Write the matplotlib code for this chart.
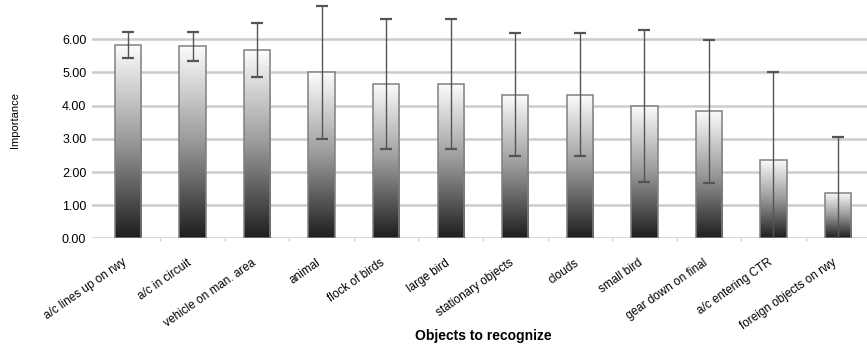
import numpy as np
import matplotlib
matplotlib.use("Agg")
import matplotlib.pyplot as plt
from matplotlib.colors import LinearSegmentedColormap
from matplotlib.patches import Rectangle
from matplotlib.transforms import ScaledTranslation

plt.rcParams['font.family'] = ['Liberation Sans', 'DejaVu Sans']

# datos
objetos = ['a/c lines up on rwy', 'a/c in circuit', 'vehicle on man. area', 'animal',
           'flock of birds', 'large bird', 'stationary objects', 'clouds', 'small bird',
           'gear down on final', 'a/c entering CTR', 'foreign objects on rwy']
media = [5.83, 5.79, 5.67, 5.00, 4.65, 4.65, 4.33, 4.33, 3.99, 3.83, 2.37, 1.37]
desv = [0.40, 0.44, 0.81, 2.00, 1.97, 1.97, 1.86, 1.86, 2.29, 2.15, 2.64, 1.68]

x = np.arange(len(objetos))
media = np.array(media)
desv = np.array(desv)

fig = plt.figure(figsize=(8.67, 3.46), dpi=100)
ax = fig.add_axes([0.106, 0.311, 0.894, 0.686])

ancho = 0.41
cmap = LinearSegmentedColormap.from_list('grad', [(0, '#1e1e1e'), (0.5, '#9a9a9a'), (1, '#fdfdfd')])
grad = np.linspace(0, 1, 256).reshape(-1, 1)

for xi, m in zip(x, media):
    im = ax.imshow(grad, cmap=cmap, origin='lower', aspect='auto',
                   extent=(xi - ancho / 2, xi + ancho / 2, 0, m), zorder=2)
    rect = Rectangle((xi - ancho / 2, 0), ancho, m, facecolor='none',
                     edgecolor='#808080', linewidth=1.1, zorder=3)
    ax.add_patch(rect)
    im.set_clip_path(rect)

# barras de error: las que llegan a cero no tienen tapa inferior
completa = desv < media
ax.errorbar(x[completa], media[completa], yerr=desv[completa], fmt='none', ecolor='#555555',
            elinewidth=1.0, capsize=4.5, capthick=1.6, zorder=4)
xc = x[~completa]
ax.vlines(xc, 0, media[~completa] + desv[~completa], color='#555555', linewidth=1.0, zorder=4)
ax.plot(xc, media[~completa] + desv[~completa], ls='none', marker='_', ms=9,
        mew=1.6, color='#555555', zorder=4)

ax.set_xlim(-0.56, 11.45)
ax.set_ylim(0, 7.15)
ax.set_yticks(np.arange(0, 7, 1))
ax.set_yticklabels(['%.2f' % v for v in np.arange(0, 7, 1)], fontsize=9)
ax.yaxis.grid(True, color='#cccccc', linewidth=1.8, zorder=0)
ax.set_axisbelow(True)
ax.tick_params(axis='y', length=0, pad=4)

ax.set_xticks(x)
ax.set_xticklabels(objetos, rotation=35, ha='right', rotation_mode='anchor', fontsize=8.5)
ax.tick_params(axis='x', length=0, pad=6)
desplaza = ScaledTranslation(-0.06, -0.10, fig.dpi_scale_trans)
for lab in ax.get_xticklabels():
    lab.set_transform(lab.get_transform() + desplaza)
ax.set_xticks(x[:-1] + 0.5, minor=True)
ax.tick_params(axis='x', which='minor', length=2, color='#cccccc', width=1)

for s in ax.spines.values():
    s.set_visible(False)

ax.set_ylabel('Importance', fontsize=8, labelpad=30)
fig.text(0.557, 0.018, 'Objects to recognize', fontsize=10, fontweight='bold', ha='center')

fig.savefig('out.png', dpi=100)
